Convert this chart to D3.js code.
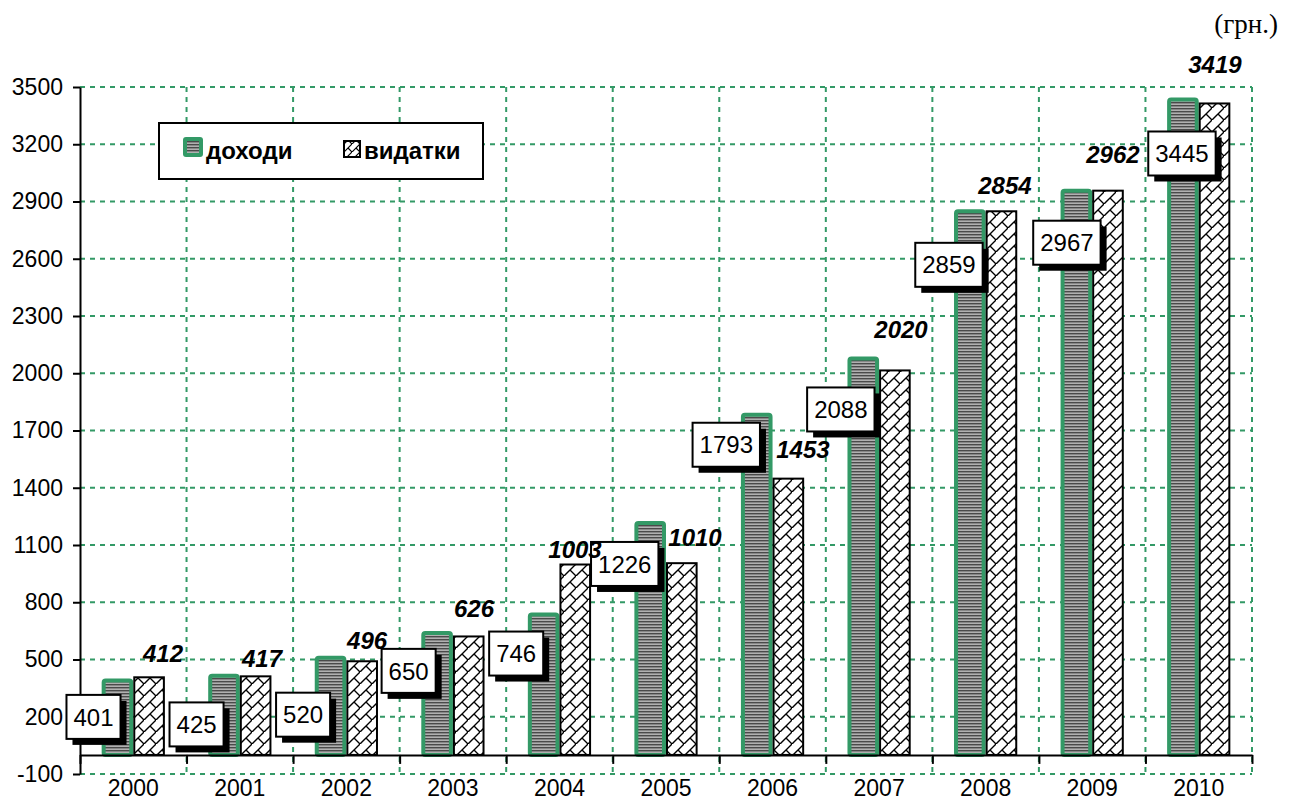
<!DOCTYPE html>
<html><head><meta charset="utf-8">
<script src="https://cdn.jsdelivr.net/npm/d3@7"></script>
<style>
html,body{margin:0;padding:0;background:#fff;}
svg{display:block;}
</style>
</head><body>
<svg id="chart" width="1291" height="803"></svg>
<script>
// ---- data ----
const years = ['2000','2001','2002','2003','2004','2005','2006','2007','2008','2009','2010'];
const income = [401, 425, 520, 650, 746, 1226, 1793, 2088, 2859, 2967, 3445];
const expenses = [412, 417, 496, 626, 1003, 1010, 1453, 2020, 2854, 2962, 3419];
const yTickValues = [-100, 200, 500, 800, 1100, 1400, 1700, 2000, 2300, 2600, 2900, 3200, 3500];
const seriesNames = ['доходи', 'видатки'];
const unitLabel = '(грн.)';

// ---- label placement offsets (pixels; center relative to band start / bar top) ----
const incLabelDx = [13.5, 10, 10, 9, 10, 12, 7, 15, 16.6, 28, 36.5];
const incLabelDy = [38.5, 50.6, 59, 40, 41, 43, 32, 53, 55.5, 54, 56];
const expLabelDx = [83, 75.5, 74, 74.4, 68.8, 82.3, 83.7, 75.2, 72.6, 74, 69.5];
const expLabelDy = [-23.4, -17.4, -20.4, -26.6, -14.6, -25.3, -27.8, -39.6, -24.5, -35, -37.7];

(function () {
const GREEN = '#339966';
const SANS = '"Liberation Sans", Arial, sans-serif';
const svg = d3.select('#chart');

// patterns
const defs = svg.append('defs');
const st = defs.append('pattern').attr('id','stripes').attr('patternUnits','userSpaceOnUse')
  .attr('width',4).attr('height',3);
st.append('rect').attr('width',4).attr('height',3).attr('fill','#b0b0b0');
st.append('rect').attr('width',4).attr('height',1.4).attr('fill','#4a4a4a');

const br = defs.append('pattern').attr('id','brick').attr('patternUnits','userSpaceOnUse')
  .attr('width',12).attr('height',12);
br.append('rect').attr('width',12).attr('height',12).attr('fill','#fff');
br.append('path').attr('d','M-1,13 L13,-1 M6,6 L12,12').attr('stroke','#000').attr('stroke-width',1.4).attr('fill','none');

const brs = defs.append('pattern').attr('id','bricksmall').attr('patternUnits','userSpaceOnUse')
  .attr('width',8).attr('height',8);
brs.append('rect').attr('width',8).attr('height',8).attr('fill','#fff');
brs.append('path').attr('d','M-1,9 L9,-1 M4,4 L8,8').attr('stroke','#000').attr('stroke-width',1.2).attr('fill','none');

// scales
const pL = 80, pR = 1252, pT = 87, pB = 774;
const x = d3.scaleBand().domain(years).range([pL, pR]).paddingInner(0).paddingOuter(0);
const xs = d3.scaleBand().domain(['inc','exp']).range([0, x.bandwidth()]).paddingInner(0).paddingOuter(0.685);
const xb = d3.scaleLinear().domain([0, years.length]).range([pL, pR]);
const y = d3.scaleLinear().domain([-100, 3500]).range([pB, pT]);

// gridlines
const grid = svg.append('g').attr('stroke', GREEN).attr('stroke-width', 2).attr('stroke-dasharray','5,5');
grid.selectAll('.hg').data(yTickValues).join('line')
  .attr('x1', pL).attr('x2', pR).attr('y1', d => y(d)).attr('y2', d => y(d));
grid.selectAll('.vg').data(d3.range(1, years.length + 1)).join('line')
  .attr('x1', d => xb(d)).attr('x2', d => xb(d)).attr('y1', pT).attr('y2', pB);

// bars
const bw = xs.bandwidth();
svg.append('g').selectAll('rect').data(income).join('rect')
  .attr('x', (d,i) => x(years[i]) + xs('inc') + 2)
  .attr('y', d => y(d) + 2)
  .attr('width', bw - 4)
  .attr('height', d => y(0) - y(d) - 2)
  .attr('rx', 2)
  .attr('fill', 'url(#stripes)')
  .attr('stroke', GREEN).attr('stroke-width', 4);

svg.append('g').selectAll('rect').data(expenses).join('rect')
  .attr('x', (d,i) => x(years[i]) + xs('exp') + 1)
  .attr('y', d => y(d) + 1)
  .attr('width', bw - 2)
  .attr('height', d => y(0) - y(d) - 1)
  .attr('fill', 'url(#brick)')
  .attr('stroke', '#000').attr('stroke-width', 2);

// y axis
const yAxis = svg.append('g').attr('transform', `translate(${pL},0)`)
  .call(d3.axisLeft(y).tickValues(yTickValues).tickSize(7).tickSizeOuter(0).tickPadding(10).tickFormat(d => String(d)));
yAxis.select('.domain').attr('stroke','#000').attr('stroke-width',2);
yAxis.selectAll('.tick line').attr('stroke','#000').attr('stroke-width',2);
yAxis.selectAll('text').attr('font-family', SANS).attr('font-size', 23).attr('fill','#000');

// category axis at zero
const xAxis = svg.append('g').attr('transform', `translate(0,${y(0)})`)
  .call(d3.axisBottom(xb).tickValues(d3.range(0, years.length + 1)).tickSize(9).tickSizeOuter(0).tickFormat(''));
xAxis.select('.domain').attr('stroke','#000').attr('stroke-width',2);
xAxis.selectAll('.tick line').attr('stroke','#000').attr('stroke-width',2);

const xLab = svg.append('g').attr('transform', `translate(0,${pB})`)
  .call(d3.axisBottom(x).tickSize(0).tickPadding(6));
xLab.select('.domain').remove();
xLab.selectAll('text').attr('font-family', SANS).attr('font-size', 23).attr('fill','#000');

// income labels in shadowed boxes
const incG = svg.append('g').selectAll('g').data(income).join('g')
  .attr('transform', (d,i) => `translate(${x(years[i]) + incLabelDx[i]},${y(d) + incLabelDy[i]})`);
incG.each(function(d) {
  const g = d3.select(this);
  const sh = g.append('rect').attr('fill','#000');
  const bx = g.append('rect').attr('fill','#fff').attr('stroke','#000').attr('stroke-width',2);
  const t = g.append('text').attr('text-anchor','middle').attr('dy','0.36em')
    .attr('font-family', SANS).attr('font-size', 24).text(d);
  const w = t.node().getComputedTextLength() + 14, h = 44;
  bx.attr('x', -w/2).attr('y', -h/2).attr('width', w).attr('height', h);
  sh.attr('x', -w/2 + 6).attr('y', -h/2 + 6).attr('width', w).attr('height', h);
});

// expense labels (bold italic)
svg.append('g').selectAll('text').data(expenses).join('text')
  .attr('x', (d,i) => x(years[i]) + expLabelDx[i])
  .attr('y', (d,i) => y(d) + expLabelDy[i])
  .attr('dy', '0.36em')
  .attr('text-anchor','middle')
  .attr('font-family', SANS).attr('font-size', 24).attr('font-weight','bold').attr('font-style','italic')
  .text(d => d);

// legend
const lg = svg.append('g');
lg.append('rect').attr('x',159).attr('y',123).attr('width',324).attr('height',56)
  .attr('fill','#fff').attr('stroke','#000').attr('stroke-width',2);
lg.append('rect').attr('x',183).attr('y',137).attr('width',20).attr('height',20).attr('rx',3).attr('fill',GREEN);
lg.append('rect').attr('x',187).attr('y',141).attr('width',12).attr('height',12).attr('fill','url(#stripes)');
lg.append('text').attr('x',206).attr('y',150).attr('dy','0.36em')
  .attr('font-family',SANS).attr('font-size',24).attr('font-weight','bold').text(seriesNames[0]);
lg.append('rect').attr('x',344).attr('y',141).attr('width',16).attr('height',16)
  .attr('fill','url(#bricksmall)').attr('stroke','#000').attr('stroke-width',2);
lg.append('text').attr('x',364).attr('y',150).attr('dy','0.36em')
  .attr('font-family',SANS).attr('font-size',24).attr('font-weight','bold').text(seriesNames[1]);

// unit label
svg.append('text').attr('x', 1278).attr('y', 33).attr('text-anchor','end')
  .attr('font-family','"Liberation Serif", "Times New Roman", serif').attr('font-size', 27).text(unitLabel);
})();
</script>
</body></html>
